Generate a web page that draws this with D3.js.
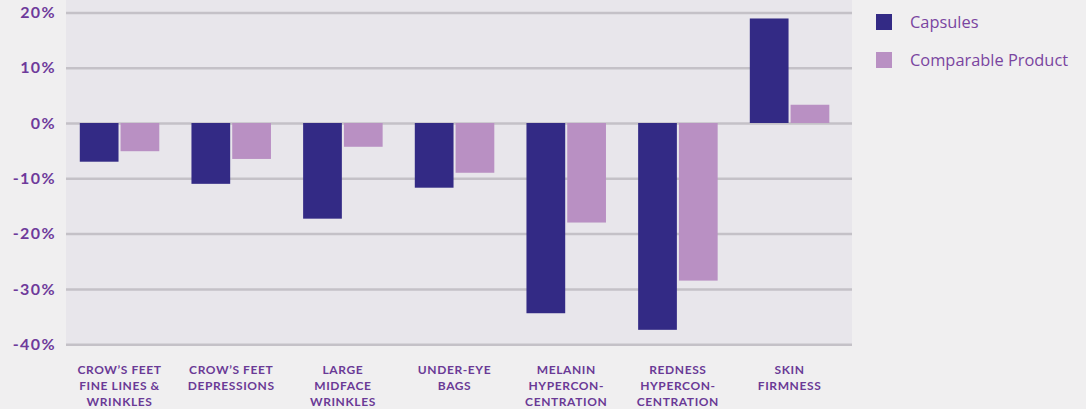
<!DOCTYPE html>
<html><head><meta charset="utf-8">
<script src="https://cdn.jsdelivr.net/npm/d3@7"></script>
<style>
html,body{margin:0;padding:0;background:#f0eff0;}
svg{display:block;}
</style></head>
<body>
<svg id="chart" width="1086" height="409"></svg>
<script>
const categories = [
  ["CROW’S FEET","FINE LINES &","WRINKLES"],
  ["CROW’S FEET","DEPRESSIONS"],
  ["LARGE","MIDFACE","WRINKLES"],
  ["UNDER-EYE","BAGS"],
  ["MELANIN","HYPERCON-","CENTRATION"],
  ["REDNESS","HYPERCON-","CENTRATION"],
  ["SKIN","FIRMNESS"]
];
const seriesNames = ["Capsules","Comparable Product"];
const capsules = [-7.0, -11.0, -17.3, -11.7, -34.4, -37.4, 18.9];
const comparable = [-5.1, -6.5, -4.3, -9.0, -18.0, -28.5, 3.3];
const yTicks = [20, 10, 0, -10, -20, -30, -40];
const colors = ["#332a85", "#b990c3"];

const svg = d3.select("#chart");
const catKeys = categories.map(c => c.join(" "));
const x0 = d3.scaleBand().domain(catKeys).range([63.7, 845.4]).paddingInner(0.288).paddingOuter(0.144);
const x1 = d3.scaleBand().domain(seriesNames).range([0, x0.bandwidth()]).paddingInner(0.05);
const y = d3.scaleLinear().domain([-40, 20]).range([344.2, 12.4]);

// plot background
svg.append("rect").attr("x", 66).attr("y", 0).attr("width", 786).attr("height", 346).attr("fill", "#e8e6eb");

// gridlines
const yAxis = d3.axisLeft(y).tickValues(yTicks).tickSize(-786).tickPadding(10).tickFormat(d => d + "%");
const gAxis = svg.append("g").attr("transform", "translate(66,0)").call(yAxis);
gAxis.select(".domain").remove();
gAxis.selectAll(".tick line").attr("stroke", "#c4c1c7").attr("stroke-width", 2.5);
gAxis.selectAll(".tick text")
  .attr("x", -10)
  .attr("fill", "#6e3a9b")
  .style("font-family", "Lato, 'Open Sans', sans-serif")
  .style("font-size", "16px")
  .style("font-weight", "700")
  .style("letter-spacing", "1.4px");

// bars
const data = categories.map((c, i) => ({key: catKeys[i], vals: [capsules[i], comparable[i]]}));
const groups = svg.append("g").selectAll("g").data(data).join("g")
  .attr("transform", d => `translate(${x0(d.key)},0)`);
groups.selectAll("rect").data(d => d.vals.map((v, j) => ({name: seriesNames[j], v, j}))).join("rect")
  .attr("x", d => x1(d.name))
  .attr("width", x1.bandwidth())
  .attr("y", d => y(Math.max(0, d.v)))
  .attr("height", d => Math.abs(y(d.v) - y(0)))
  .attr("fill", d => colors[d.j]);

// category labels
const xAxisG = svg.append("g");
categories.forEach((lines, i) => {
  const t = xAxisG.append("text")
    .attr("x", x0(catKeys[i]) + x0.bandwidth() / 2)
    .attr("y", 374)
    .attr("text-anchor", "middle")
    .attr("fill", "#6a3a96")
    .style("font-family", "Lato, 'Open Sans', sans-serif")
    .style("font-size", "12px")
    .style("font-weight", "700")
    .style("letter-spacing", "0.6px");
  lines.forEach((ln, k) => {
    t.append("tspan").attr("x", x0(catKeys[i]) + x0.bandwidth() / 2).attr("dy", k === 0 ? 0 : 16).text(ln);
  });
});

// legend
const legend = svg.append("g").attr("transform", "translate(876,14)");
seriesNames.forEach((n, i) => {
  const g = legend.append("g").attr("transform", `translate(0,${i * 38})`);
  g.append("rect").attr("width", 16).attr("height", 16).attr("fill", colors[i]);
  g.append("text").attr("x", 34).attr("y", 14).text(n)
    .attr("fill", "#7a45a0")
    .style("font-family", "'Open Sans', Lato, sans-serif")
    .style("font-size", "16.4px");
});
</script>
</body></html>
